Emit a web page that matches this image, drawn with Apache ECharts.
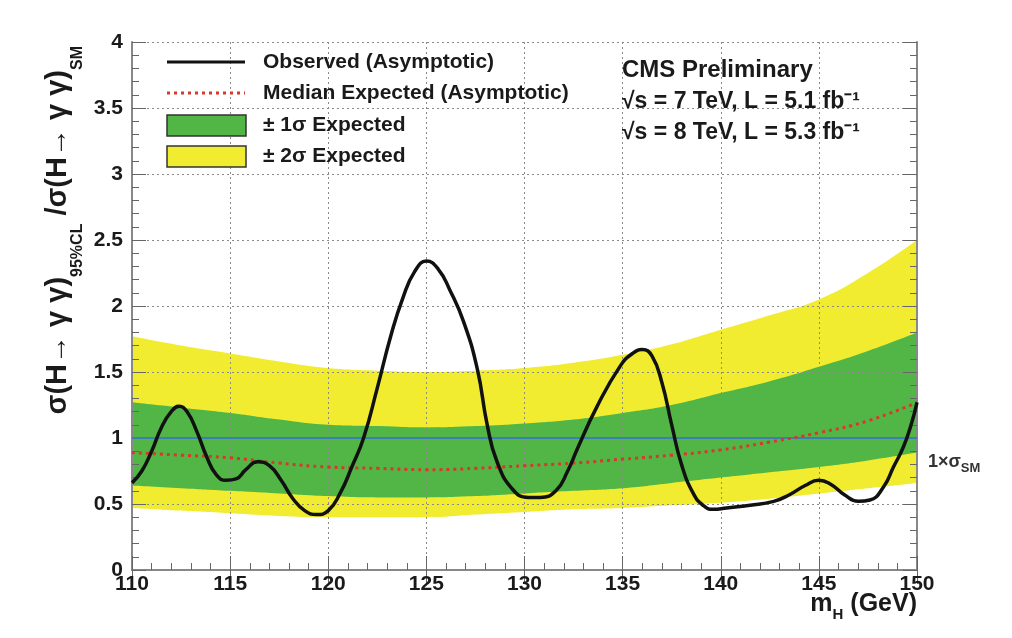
<!DOCTYPE html>
<html><head><meta charset="utf-8">
<script src="https://cdn.jsdelivr.net/npm/echarts@6/dist/echarts.min.js"></script>
<style>html,body{margin:0;padding:0;background:#fff}#c{width:1012px;height:638px}</style>
</head><body><div id="c"></div>
<script>
// Expected bands (mass in GeV)
const massExp   = [110, 112.5, 115, 117.5, 120, 122.5, 125, 127.5, 130, 132.5, 135, 137.5, 140, 142.5, 145, 147.5, 150];
const exp2Hi    = [1.77, 1.70, 1.64, 1.58, 1.53, 1.51, 1.50, 1.51, 1.53, 1.57, 1.63, 1.71, 1.82, 1.93, 2.05, 2.25, 2.50];
const exp1Hi    = [1.27, 1.23, 1.19, 1.14, 1.10, 1.09, 1.08, 1.09, 1.11, 1.14, 1.19, 1.25, 1.34, 1.43, 1.54, 1.66, 1.80];
const expMedian = [0.89, 0.87, 0.85, 0.81, 0.78, 0.77, 0.76, 0.77, 0.79, 0.81, 0.84, 0.87, 0.91, 0.97, 1.04, 1.13, 1.27];
const exp1Lo    = [0.64, 0.62, 0.60, 0.58, 0.56, 0.55, 0.55, 0.56, 0.58, 0.60, 0.62, 0.66, 0.70, 0.74, 0.78, 0.83, 0.89];
const exp2Lo    = [0.47, 0.45, 0.43, 0.41, 0.40, 0.40, 0.40, 0.42, 0.44, 0.46, 0.47, 0.49, 0.51, 0.54, 0.58, 0.62, 0.66];
// Observed limit
const massObs  = [110,110.5,111,111.5,112,112.4,112.8,113.3,113.8,114.3,114.8,115.3,115.8,116.4,117,117.6,118.2,118.8,119.4,120,120.6,121.2,121.8,122.5,123.2,123.8,124.4,125,125.6,126.2,126.9,127.6,128.1,128.6,129.4,130.2,130.8,131.6,132.2,132.7,133.7,134.9,135.5,136,136.5,137,137.5,138,138.6,139.1,139.6,140.3,141.5,142.7,143.5,144.3,145,145.6,146.3,147,147.6,148.3,148.8,149.3,149.7,150];
const obsLimit = [0.66,0.75,0.90,1.08,1.20,1.24,1.20,1.05,0.86,0.72,0.68,0.69,0.76,0.82,0.79,0.68,0.54,0.45,0.42,0.45,0.58,0.78,1.00,1.38,1.78,2.06,2.26,2.34,2.28,2.12,1.88,1.52,1.10,0.82,0.61,0.55,0.55,0.60,0.75,0.92,1.24,1.55,1.64,1.67,1.62,1.42,1.10,0.80,0.58,0.49,0.46,0.47,0.49,0.52,0.57,0.64,0.68,0.65,0.57,0.52,0.53,0.63,0.78,0.93,1.10,1.27];
const smLine = [[110, 1], [150, 1]];
const xTicks = [110, 115, 120, 125, 130, 135, 140, 145, 150];
const yTicks = [0, 0.5, 1, 1.5, 2, 2.5, 3, 3.5, 4];
// y-axis title pieces: [text, isSubscript]
const yTitleParts = [['σ(H→ γ γ)', false], ['95%CL', true], [' /σ(H→ γ γ)', false], ['SM', true]];

const FONT = '"Liberation Sans", Arial, sans-serif';
const YEL = '#f1ec2f', GRN = '#52b647';
const pair = (xs, ys) => xs.map((x, i) => [x, ys[i]]);

// rotated y title built from measured pieces (reads bottom to top, ends near the top of the frame)
const mctx = document.createElement('canvas').getContext('2d');
const MAINF = 'bold 29px ' + FONT, SUBF = 'bold 16px ' + FONT;
let off = 0;
const titleChildren = yTitleParts.map(([t, sub]) => {
  mctx.font = sub ? SUBF : MAINF;
  const el = {type: 'text', x: off, y: sub ? 20 : 0,
    style: {text: t, font: sub ? SUBF : MAINF, fill: '#1a1a1a', textVerticalAlign: 'middle'}};
  off += mctx.measureText(t).width;
  return el;
});

// layered filled areas (each filled down to 0), drawn top band first
const band = (ys, color, z) => ({type: 'line', data: pair(massExp, ys), symbol: 'none', smooth: true, silent: true, z: z,
  lineStyle: {width: 0}, areaStyle: {color: color, opacity: 1, origin: 'start'}});

const chart = echarts.init(document.getElementById('c'));
const gridLine = {show: true, lineStyle: {color: '#8a8a8a', type: [2, 3], width: 1}};
chart.setOption({
  animation: false,
  grid: {left: 132, right: 95, top: 42, bottom: 68},
  xAxis: [{
    type: 'value', min: 110, max: 150, interval: 5, z: 5,
    axisLine: {lineStyle: {color: '#888', width: 2}},
    axisTick: {inside: true, length: 14, lineStyle: {color: '#666'}},
    minorTick: {show: true, splitNumber: 5, length: 7, lineStyle: {color: '#666'}},
    axisLabel: {color: '#1a1a1a', fontFamily: FONT, fontWeight: 'bold', fontSize: 21, margin: 4,
      formatter: v => xTicks.includes(v) ? String(v) : ''},
    splitLine: gridLine
  }, {
    type: 'value', min: 110, max: 150, interval: 5, position: 'top', z: 5,
    axisLine: {lineStyle: {color: '#888', width: 2}},
    axisTick: {inside: true, length: 14, lineStyle: {color: '#666'}},
    axisLabel: {show: false}, splitLine: {show: false}
  }],
  yAxis: [{
    type: 'value', min: 0, max: 4, interval: 0.5, z: 5,
    axisLine: {show: true, lineStyle: {color: '#888', width: 2}},
    axisTick: {inside: true, length: 14, lineStyle: {color: '#666'}},
    minorTick: {show: true, splitNumber: 5, length: 7, lineStyle: {color: '#666'}},
    axisLabel: {color: '#1a1a1a', fontFamily: FONT, fontWeight: 'bold', fontSize: 21, margin: 9,
      formatter: v => yTicks.includes(v) ? String(v) : ''},
    splitLine: gridLine
  }, {
    type: 'value', min: 0, max: 4, interval: 0.5, position: 'right', z: 5,
    axisLine: {show: true, lineStyle: {color: '#888', width: 2}},
    axisTick: {inside: true, length: 14, lineStyle: {color: '#666'}},
    minorTick: {show: true, splitNumber: 5, length: 7, lineStyle: {color: '#666'}},
    axisLabel: {show: false}, splitLine: {show: false}
  }],
  series: [
    band(exp2Hi, YEL, 1),
    band(exp1Hi, GRN, 1.1),
    band(exp1Lo, YEL, 1.2),
    band(exp2Lo, '#ffffff', 1.3),
    {type: 'line', name: 'SM', data: smLine, symbol: 'none', z: 6, lineStyle: {color: '#3d7fb3', width: 2}},
    {type: 'line', name: 'Median Expected', data: pair(massExp, expMedian), symbol: 'none', smooth: true, z: 7,
      lineStyle: {color: '#d8372a', width: 3, type: [3, 4]}},
    {type: 'line', name: 'Observed', data: pair(massObs, obsLimit), symbol: 'none', smooth: 0.5, z: 10,
      lineStyle: {color: '#111', width: 3.5}}
  ],
  graphic: [
    {type: 'group', x: 58, y: 46 + off, rotation: Math.PI / 2, children: titleChildren},
    {type: 'line', z: 20, shape: {x1: 167, y1: 62, x2: 245, y2: 62}, style: {stroke: '#111', lineWidth: 3}},
    {type: 'line', z: 20, shape: {x1: 167, y1: 93, x2: 245, y2: 93}, style: {stroke: '#d8372a', lineWidth: 3, lineDash: [3, 4]}},
    {type: 'rect', z: 20, shape: {x: 167, y: 115, width: 79, height: 21}, style: {fill: GRN, stroke: '#333', lineWidth: 1.5}},
    {type: 'rect', z: 20, shape: {x: 167, y: 146, width: 79, height: 21}, style: {fill: YEL, stroke: '#333', lineWidth: 1.5}},
    {type: 'text', z: 20, x: 263, y: 62, style: {text: 'Observed (Asymptotic)', font: 'bold 21px ' + FONT, fill: '#1a1a1a', textVerticalAlign: 'middle'}},
    {type: 'text', z: 20, x: 263, y: 93, style: {text: 'Median Expected (Asymptotic)', font: 'bold 21px ' + FONT, fill: '#1a1a1a', textVerticalAlign: 'middle'}},
    {type: 'text', z: 20, x: 263, y: 125, style: {text: '± 1σ Expected', font: 'bold 21px ' + FONT, fill: '#1a1a1a', textVerticalAlign: 'middle'}},
    {type: 'text', z: 20, x: 263, y: 156, style: {text: '± 2σ Expected', font: 'bold 21px ' + FONT, fill: '#1a1a1a', textVerticalAlign: 'middle'}},
    {type: 'text', z: 20, x: 622, y: 70, style: {text: 'CMS Preliminary', font: 'bold 24px ' + FONT, fill: '#1a1a1a', textVerticalAlign: 'middle'}},
    {type: 'text', z: 20, x: 622, y: 102, style: {text: '√s = 7 TeV, L = 5.1 fb⁻¹', font: 'bold 23px ' + FONT, fill: '#1a1a1a', textVerticalAlign: 'middle'}},
    {type: 'text', z: 20, x: 622, y: 133, style: {text: '√s = 8 TeV, L = 5.3 fb⁻¹', font: 'bold 23px ' + FONT, fill: '#1a1a1a', textVerticalAlign: 'middle'}},
    {type: 'text', z: 20, x: 928, y: 462, style: {
      text: '{a|1×σ}{s|SM}', textVerticalAlign: 'middle',
      rich: {a: {font: 'bold 18px ' + FONT, fill: '#333', lineHeight: 26, verticalAlign: 'middle'},
             s: {font: 'bold 13px ' + FONT, fill: '#333', lineHeight: 26, verticalAlign: 'bottom', padding: [10, 0, 0, 0]}}}},
    {type: 'text', z: 20, x: 917, y: 604, style: {
      text: '{a|m}{s|H}{a| (GeV)}', align: 'right', textAlign: 'right', textVerticalAlign: 'middle',
      rich: {a: {font: 'bold 25px ' + FONT, fill: '#1a1a1a', lineHeight: 36, verticalAlign: 'middle'},
             s: {font: 'bold 15px ' + FONT, fill: '#1a1a1a', lineHeight: 36, verticalAlign: 'bottom', padding: [14, 0, 0, 0]}}}}
  ]
});
</script></body></html>
